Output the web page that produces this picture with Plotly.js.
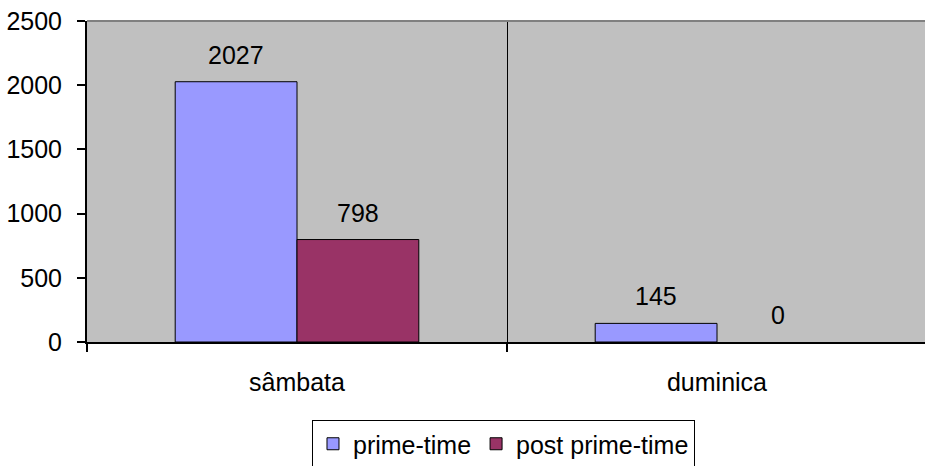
<!DOCTYPE html>
<html>
<head>
<meta charset="utf-8">
<script src="https://cdn.plot.ly/plotly-3.0.1.min.js"></script>
<style>
html,body{margin:0;padding:0;overflow:hidden;background:#fff;}
#chart{width:925px;height:466px;}
</style>
</head>
<body>
<div id="chart"></div>
<script>
var categories = ["sâmbata", "duminica"];
var primeTime = [2027, 145];
var postPrimeTime = [798, 0];
var seriesNames = ["prime-time", "post prime-time"];
var yTicks = [0, 500, 1000, 1500, 2000, 2500];

var FONT = "Liberation Sans, Arial, sans-serif";
var FS = 25;
var bargap = 0.42;
var barW = (1 - bargap) / 2;

function outlineWidths(vals) {
  return vals.map(function (v) { return v === 0 ? 0 : 1; });
}

var traces = [
  {type: "bar", name: seriesNames[0], x: categories, y: primeTime,
   marker: {color: "#9999FF", line: {color: "#000", width: outlineWidths(primeTime)}}},
  {type: "bar", name: seriesNames[1], x: categories, y: postPrimeTime,
   marker: {color: "#993366", line: {color: "#000", width: outlineWidths(postPrimeTime)}}}
];

var annotations = [];
[primeTime, postPrimeTime].forEach(function (vals, s) {
  vals.forEach(function (v, i) {
    annotations.push({
      x: i + (s === 0 ? -barW / 2 : barW / 2), xref: "x",
      y: v, yref: "y", text: String(v), showarrow: false,
      yanchor: "middle", yshift: 27,
      font: {family: FONT, size: FS, color: "#000"}
    });
  });
});

var layout = {
  width: 925, height: 466,
  margin: {l: 87, r: 0, t: 21, b: 124, autoexpand: false},
  paper_bgcolor: "#fff",
  plot_bgcolor: "#C0C0C0",
  font: {family: FONT, size: FS, color: "#000"},
  barmode: "group", bargap: bargap, bargroupgap: 0,
  showlegend: true,
  legend: {orientation: "h", x: 0.497, xanchor: "center", y: -0.243, yanchor: "top",
           bgcolor: "#fff", bordercolor: "#000", borderwidth: 1,
           font: {family: FONT, size: FS, color: "#000"}},
  xaxis: {type: "category", range: [-0.5, -0.5 + 838 / 420], automargin: false,
          tickson: "boundaries", ticks: "outside", ticklen: 8, tickwidth: 2, tickcolor: "#000",
          showgrid: true, gridcolor: "#000", gridwidth: 1,
          showline: true, linecolor: "#000", linewidth: 2,
          ticklabelstandoff: 17, fixedrange: true},
  yaxis: {range: [0, 2500], tickvals: yTicks, ticks: "outside", ticklen: 8, tickwidth: 2,
          tickcolor: "#000", showgrid: false, zeroline: false, automargin: false,
          showline: true, linecolor: "#000", linewidth: 2,
          ticklabelstandoff: 10, fixedrange: true},
  shapes: [{type: "line", xref: "paper", yref: "paper", x0: 0, x1: 1, y0: 1, y1: 1,
            line: {color: "#808080", width: 2}}],
  annotations: annotations
};

Plotly.newPlot("chart", traces, layout, {displayModeBar: false, staticPlot: true});
</script>
</body>
</html>
